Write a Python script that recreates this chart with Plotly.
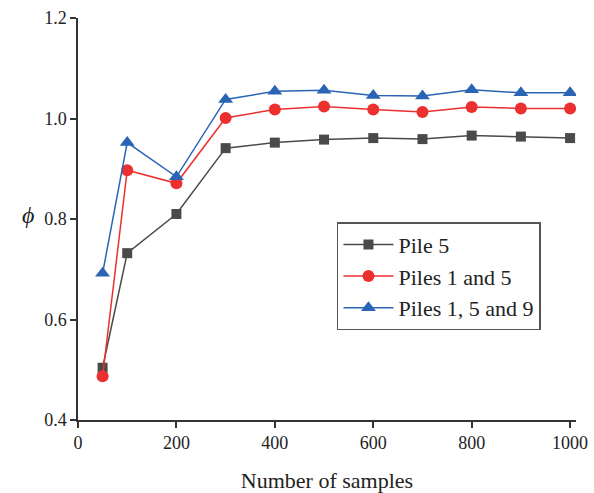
import plotly.graph_objects as go

samples = [50, 100, 200, 300, 400, 500, 600, 700, 800, 900, 1000]
pile5 = [0.504, 0.732, 0.810, 0.941, 0.952, 0.958, 0.961, 0.959, 0.966, 0.964, 0.961]
piles15 = [0.487, 0.897, 0.871, 1.001, 1.018, 1.024, 1.018, 1.013, 1.023, 1.020, 1.020]
piles159 = [0.692, 0.952, 0.884, 1.038, 1.054, 1.056, 1.046, 1.045, 1.057, 1.051, 1.051]

names = ["Pile 5", "Piles 1 and 5", "Piles 1, 5 and 9"]
colors = ["#4a4a4a", "#ec2f2f", "#2a64b4"]
symbols = ["square", "circle", "triangle-up"]
sizes = [10, 12, 13]

SERIF = "Liberation Serif, Times New Roman, serif"

fig = go.Figure()
for ys, n, c, s, sz in zip([pile5, piles15, piles159], names, colors, symbols, sizes):
    fig.add_trace(go.Scatter(x=samples, y=ys, name=n, mode="lines+markers",
                             line=dict(color=c, width=1.5),
                             marker=dict(symbol=s, size=sz, color=c)))

axis_common = dict(showline=True, linecolor="#333", linewidth=1.5, ticks="outside",
                   ticklen=6, tickwidth=1.5, tickcolor="#333", showgrid=False,
                   zeroline=False, mirror=False, automargin=False,
                   tickfont=dict(family=SERIF, size=18, color="#222"))

fig.update_layout(
    width=594, height=493,
    font=dict(family=SERIF, color="#222"),
    margin=dict(l=78, r=18, t=18, b=73, autoexpand=False),
    paper_bgcolor="white", plot_bgcolor="white",
    xaxis=dict(range=[0, 1012], tickvals=[0, 200, 400, 600, 800, 1000],
               title=dict(text="Number of samples", font=dict(family=SERIF, size=22, color="#222"), standoff=20),
               **axis_common),
    yaxis=dict(range=[0.4, 1.2], tickvals=[0.4, 0.6, 0.8, 1.0, 1.2], tickformat=".1f",
               **axis_common),
    legend=dict(x=0.52, y=0.492, xanchor="left", yanchor="top",
                bgcolor="white", bordercolor="#555", borderwidth=1.5,
                font=dict(family=SERIF, size=22, color="#222"),
                tracegroupgap=0, itemwidth=50),
    annotations=[dict(text="<i>ϕ</i>", xref="paper", yref="paper", x=-0.1, y=0.51,
                      xanchor="center", yanchor="middle", showarrow=False,
                      font=dict(family=SERIF, size=24, color="#222"))],
    showlegend=True,
)

fig.write_html("out.html", config={"displayModeBar": False},
               post_script="document.body.style.margin='0';")
